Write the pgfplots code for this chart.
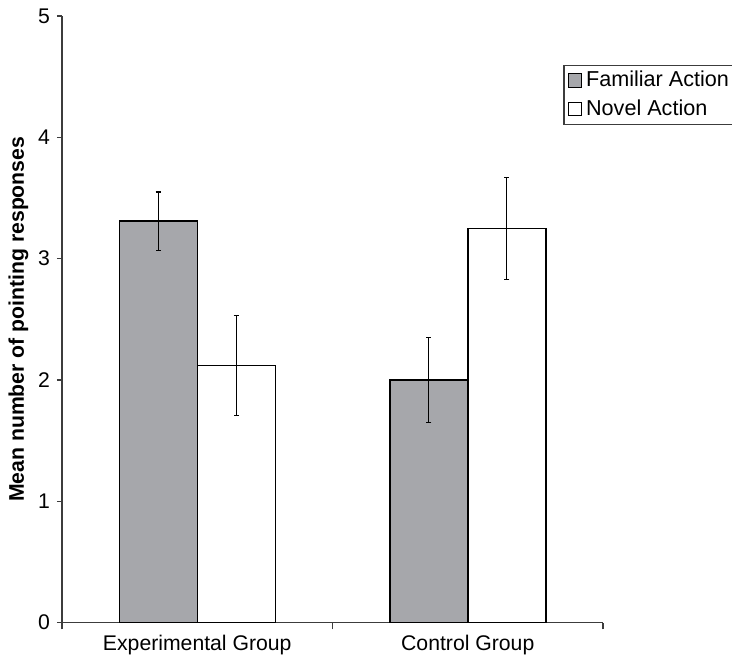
\documentclass[border=0pt]{standalone}
\usepackage{pgfplots}
\pgfplotsset{compat=1.18}
\usepackage{fontspec}
\setmainfont{Liberation Sans}
\definecolor{barfill}{RGB}{166,167,171}
\definecolor{axiscol}{RGB}{60,60,60}
\begin{document}
\begin{tikzpicture}
\path[use as bounding box] (-31pt,-16.65pt) rectangle (335pt,311.35pt);
\begin{axis}[
  scale only axis,
  width=270.5pt, height=303.35pt,
  font=\fontsize{10.6}{12.7}\selectfont,
  /pgf/number format/assume math mode=true,
  axis x line=bottom, axis y line=left,
  axis line style={axiscol, line width=0.6pt, -},
  xmin=-0.5, xmax=1.5, ymin=0, ymax=5,
  ytick={0,1,2,3,4,5},
  xtick={0,1},
  xticklabels={Experimental Group, Control Group},
  minor xtick={-0.5,0.5,1.5},
  major x tick style={draw=none},
  minor x tick style={axiscol, line width=0.6pt},
  y tick style={axiscol, line width=0.6pt},
  tick align=outside,
  major tick length=2.5pt,
  minor tick length=3.3pt,
  ylabel={\bfseries Mean number of pointing responses},
  ylabel style={yshift=-2pt},
  ybar=0pt, bar width=39pt,
  legend style={at={(0.9266,0.9192)}, anchor=north west, draw=axiscol, line width=0.6pt,
    inner xsep=2pt, inner ysep=0.8pt, row sep=1pt,
    font=\fontsize{10.8}{12.8}\selectfont,
    legend cell align=left},
  legend image code/.code={\draw[#1, line width=0.5pt] (0pt,-3.3pt) rectangle (6.6pt,3.3pt);},
  error bars/error bar style={line width=0.5pt, black},
  error bars/error mark=|,
  error bars/error mark options={mark size=1.3pt, line width=0.6pt, black},
]
\addplot[fill=barfill, draw=black, line width=0.75pt,
  error bars/.cd, y dir=both, y explicit]
  coordinates {(0,3.31) +- (0,0.24) (1,2.00) +- (0,0.35)};
\addplot[fill=white, draw=black, line width=0.75pt,
  error bars/.cd, y dir=both, y explicit]
  coordinates {(0,2.12) +- (0,0.41) (1,3.25) +- (0,0.42)};
\legend{Familiar Action, Novel Action}
\end{axis}
\end{tikzpicture}
\end{document}
